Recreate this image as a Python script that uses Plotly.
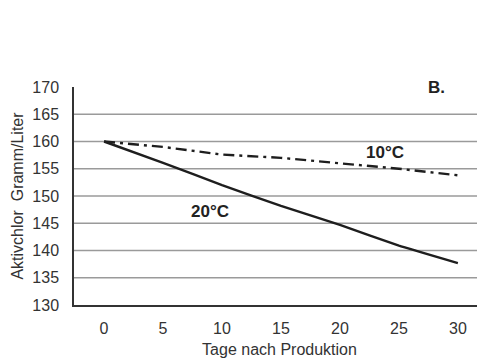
import plotly.graph_objects as go

days = [0, 5, 10, 15, 20, 25, 30]
t20 = [160, 156.1, 152.0, 148.2, 144.7, 140.9, 137.7]
t10 = [160, 159.0, 157.6, 157.0, 156.0, 155.0, 153.8]
y_ticks = [130, 135, 140, 145, 150, 155, 160, 165, 170]
grid_vals = [135, 140, 145, 150, 155, 160, 165]
x_ticks = [0, 5, 10, 15, 20, 25, 30]

font = "Liberation Sans, Arial, sans-serif"
fig = go.Figure()
for g in grid_vals:
    fig.add_shape(type="line", xref="paper", x0=0, x1=1, yref="y", y0=g, y1=g,
                  line=dict(color="#9a9a9a", width=1.3), layer="below")
fig.add_trace(go.Scatter(x=days, y=t20, mode="lines", line=dict(color="#1e1e1e", width=2.4, shape="spline", smoothing=0.3), showlegend=False))
fig.add_trace(go.Scatter(x=days, y=t10, mode="lines", line=dict(color="#1e1e1e", width=2.4, dash="11px,5px,3px,5px"), showlegend=False))

fig.add_annotation(x=9.0, y=147.2, text="<b>20°C</b>", showarrow=False, font=dict(family=font, size=17, color="#222"))
fig.add_annotation(x=23.8, y=157.9, text="<b>10°C</b>", showarrow=False, font=dict(family=font, size=17, color="#222"))
fig.add_annotation(x=28.2, y=170.0, text="<b>B.</b>", showarrow=False, font=dict(family=font, size=17, color="#222"))

fig.update_layout(
    width=477, height=351,
    margin=dict(l=66, r=0, t=79, b=54),
    paper_bgcolor="white", plot_bgcolor="white",
    font=dict(family=font, size=16, color="#333"),
)
fig.update_xaxes(range=[-2.55, 32.3], tickvals=x_ticks, showgrid=False, zeroline=False,
                 showline=True, linecolor="#333", linewidth=1.5, ticks="", ticklabelstandoff=8,
                 title=dict(text="Tage nach Produktion", font=dict(size=16, color="#333"), standoff=8),
                 tickfont=dict(size=16, color="#333"))
fig.update_yaxes(range=[130, 170], tickvals=y_ticks, showgrid=False,
                 zeroline=False, showline=True, linecolor="#333", linewidth=1.5, ticks="", ticklabelstandoff=10,
                 title=dict(text="Aktivchlor  Gramm/Liter", font=dict(size=16, color="#333"), standoff=5),
                 tickfont=dict(size=16, color="#333"))
fig.write_html("out.html")
